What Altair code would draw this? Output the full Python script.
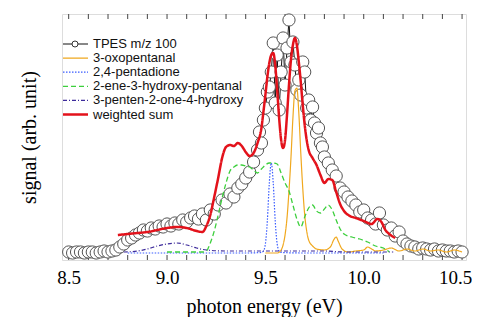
import altair as alt
import pandas as pd

# ---------------- data (signal in arb. units) ----------------
tpes_x = [8.50, 8.52, 8.54, 8.56, 8.58, 8.60, 8.62, 8.64, 8.66, 8.68,
          8.70, 8.72, 8.74, 8.76, 8.78, 8.80, 8.82, 8.84, 8.86, 8.88,
          8.90, 8.92, 8.94, 8.96, 8.98, 9.00, 9.02, 9.04, 9.06, 9.08,
          9.10, 9.12, 9.14, 9.16, 9.18, 9.20, 9.22, 9.24, 9.26, 9.28,
          9.30, 9.32, 9.34, 9.36, 9.38, 9.40, 9.42, 9.44,
          9.46, 9.47, 9.48, 9.49, 9.50, 9.51, 9.52, 9.53, 9.54, 9.55,
          9.56, 9.57, 9.58, 9.59, 9.60, 9.61, 9.62, 9.63, 9.64, 9.65,
          9.66, 9.67, 9.68, 9.69, 9.70, 9.71, 9.72, 9.73, 9.74, 9.75,
          9.76, 9.77, 9.78, 9.79, 9.80,
          9.82, 9.84, 9.86, 9.88, 9.90, 9.92, 9.94, 9.96, 9.98, 10.00,
          10.02, 10.04, 10.06, 10.08, 10.10, 10.12, 10.14, 10.16, 10.18, 10.20,
          10.22, 10.24, 10.26, 10.28, 10.30, 10.32, 10.34, 10.36, 10.38, 10.40,
          10.42, 10.44, 10.46, 10.48, 10.50]
tpes_y = [1, 0, 1, 1, 0, 1, 1, 0, 1, 2,
          1, 2, 3, 6, 9, 13, 15, 18, 20, 23,
          22, 25, 24, 27, 26, 29, 27, 30, 29, 33,
          31, 35, 37, 34, 39, 33, 43, 39, 48, 53,
          50, 59, 56, 65, 69, 75, 81, 91,
          103, 121, 110, 133, 145, 161, 166, 181, 210, 150,
          198, 143, 181, 215, 168, 205, 233, 191, 211, 188,
          163, 173, 158, 191, 181, 145, 153, 133, 146, 130,
          120, 125, 110, 106, 96,
          90, 83, 77, 65, 61, 56, 52, 48, 41, 43,
          35, 33, 29, 40, 28, 23, 25, 17, 21, 12,
          9, 7, 6, 4, 5, 4, 3, 4, 2, 3,
          2, 2, 1, 2, 1]

oxo_x = [9.50, 9.56, 9.58, 9.59, 9.60, 9.61, 9.62, 9.63, 9.64, 9.65,
         9.66, 9.67, 9.68, 9.69, 9.70, 9.71, 9.72, 9.74, 9.76, 9.80,
         9.83, 9.85, 9.86, 9.87, 9.89, 9.92, 9.96, 10.00, 10.02, 10.04,
         10.06, 10.10, 10.14, 10.18, 10.22, 10.26, 10.30, 10.34, 10.38, 10.42,
         10.46, 10.50]
oxo_y = [0, 0, 3, 8, 18, 35, 62, 95, 135, 162,
         165, 140, 100, 65, 38, 22, 13, 7, 4, 3,
         6, 14, 16, 12, 4, 1, 2, 3, 6, 4,
         2, 3, 5, 2, 4, 2, 4, 2, 3, 1,
         3, 1]

pd_x = [8.80, 9.00, 9.20, 9.40, 9.48, 9.49, 9.50, 9.51, 9.52, 9.53,
        9.54, 9.55, 9.56, 9.57, 9.58, 9.70, 9.90, 10.10]
pd_y = [0, 0, 0, 0, 0.5, 2, 9, 32, 70, 90,
        70, 32, 9, 2, 0.5, 0, 0, 0]

ene_x = [9.00, 9.10, 9.18, 9.20, 9.22, 9.24, 9.26, 9.28, 9.30, 9.32,
         9.34, 9.36, 9.38, 9.40, 9.42, 9.44, 9.46, 9.48, 9.50, 9.52,
         9.54, 9.56, 9.58, 9.60, 9.62, 9.64, 9.66, 9.68, 9.70, 9.72,
         9.74, 9.76, 9.78, 9.80, 9.82, 9.84, 9.86, 9.88, 9.90, 9.94,
         9.98, 10.02, 10.06, 10.10, 10.13]
ene_y = [1, 1, 1, 2, 10, 22, 38, 55, 70, 82,
         86, 88, 88, 87, 86, 83, 80, 84, 88, 90,
         90, 89, 80, 70, 62, 48, 34, 26, 36, 45,
         48, 42, 40, 44, 48, 43, 33, 24, 19, 16,
         14, 11, 7, 5, 1]

pen_x = [8.78, 8.85, 8.90, 8.95, 9.00, 9.05, 9.10, 9.15, 9.20, 9.30,
         9.40, 9.50, 9.60, 9.70, 9.80, 9.90, 10.00, 10.10, 10.15]
pen_y = [1, 2, 4, 7, 9, 10, 8, 5, 3, 2,
         2, 2, 2, 2, 2, 1, 1, 1, 1]

sum_x = [8.75, 8.80, 8.85, 8.90, 8.95, 9.00, 9.05, 9.10, 9.15, 9.18,
         9.20, 9.22, 9.24, 9.26, 9.28, 9.30, 9.32, 9.34, 9.36, 9.38,
         9.40, 9.42, 9.44, 9.46, 9.48, 9.49, 9.50, 9.51, 9.52, 9.53,
         9.54, 9.55, 9.56, 9.57, 9.58, 9.59, 9.60, 9.61, 9.62, 9.63,
         9.64, 9.65, 9.66, 9.67, 9.68, 9.69, 9.70, 9.71, 9.72, 9.74,
         9.76, 9.78, 9.80, 9.82, 9.84, 9.86, 9.88, 9.90, 9.93, 9.96,
         10.00, 10.04, 10.07, 10.09, 10.11, 10.13, 10.16]
sum_y = [18, 19, 20, 21, 23, 25, 26, 25, 22, 21,
         27, 38, 56, 75, 95, 106, 108, 107, 110, 107,
         101, 97, 100, 110, 125, 141, 158, 176, 190, 198,
         200, 188, 163, 135, 113, 105, 113, 138, 168, 193,
         208, 215, 208, 191, 171, 148, 128, 113, 103, 95,
         88, 78, 70, 74, 73, 61, 49, 42, 37, 35,
         32, 29, 34, 31, 23, 19, 15]

tick_values = [8.5, 8.6, 8.7, 8.8, 8.9, 9.0, 9.1, 9.2, 9.3, 9.4, 9.5,
               9.6, 9.7, 9.8, 9.9, 10.0, 10.1, 10.2, 10.3, 10.4, 10.5]
label_values = [8.5, 9.0, 9.5, 10.0, 10.5]

labels = ["TPES m/z 100", "3-oxopentanal", "2,4-pentadione",
          "2-ene-3-hydroxy-pentanal", "3-penten-2-one-4-hydroxy", "weighted sum"]

# ---------------- styling ----------------
W, H = 404, 246
colors = ["#111111", "#f0a81e", "#3a5cff", "#3ccf3c", "#3d2b9b", "#e3121b"]
dashes = [[1, 0], [1, 0], [1.5, 1.5], [5, 3], [4, 2, 1, 2], [1, 0]]
widths = [1, 1.2, 1.2, 1.3, 1.2, 2.5]

xs = alt.Scale(domain=[8.466, 10.52], nice=False, zero=False)
ys = alt.Scale(domain=[-7, 239], nice=False, zero=False)

serif = "Liberation Serif"
xaxis = alt.Axis(values=label_values, format=".1f", ticks=False, domain=False, grid=False,
                 labelFlush=False, labelFont=serif, labelFontSize=19, labelColor="black",
                 labelPadding=8,
                 labelOffset={"condition": {"test": "datum.value > 10.4", "value": -7}, "value": 0},
                 title="photon energy (eV)", titleFont=serif,
                 titleFontSize=20, titleFontWeight="normal", titleColor="black",
                 titlePadding=9)
yaxis = alt.Axis(labels=False, ticks=False, domain=False, grid=False,
                 title="signal (arb. unit)", titleFont=serif, titleFontSize=20,
                 titleFontWeight="normal", titleColor="black", titlePadding=23)


def xy():
    return dict(x=alt.X("x:Q", scale=xs, axis=xaxis), y=alt.Y("y:Q", scale=ys, axis=yaxis))


def curve(xv, yv, i):
    df = pd.DataFrame({"x": xv, "y": yv})
    return alt.Chart(df).mark_line(color=colors[i], strokeDash=dashes[i],
                                   strokeWidth=widths[i], interpolate="monotone").encode(**xy())


tpes_df = pd.DataFrame({"x": tpes_x, "y": tpes_y})
tpes_line = alt.Chart(tpes_df).mark_line(color="#111111", strokeWidth=1).encode(**xy())
tpes_pts = alt.Chart(tpes_df).mark_circle(size=150, fill="white", stroke="#555555",
                                          strokeWidth=1, opacity=1, fillOpacity=1).encode(**xy())

ticks_df = pd.DataFrame({"t": tick_values})
ticks_top = alt.Chart(ticks_df).mark_rule(color="#444444", strokeWidth=1).encode(
    x=alt.X("t:Q", scale=xs, axis=xaxis), y=alt.value(0), y2=alt.value(5))
ticks_bot = alt.Chart(ticks_df).mark_rule(color="#444444", strokeWidth=1).encode(
    x=alt.X("t:Q", scale=xs, axis=xaxis), y=alt.value(H - 5), y2=alt.value(H))

layers = [ticks_top, ticks_bot, tpes_line, tpes_pts,
          curve(oxo_x, oxo_y, 1), curve(pd_x, pd_y, 2), curve(ene_x, ene_y, 3),
          curve(pen_x, pen_y, 4), curve(sum_x, sum_y, 5)]

# ---------------- legend (top-left, inside the frame) ----------------
for i, lab in enumerate(labels):
    ldf = pd.DataFrame({"label": [lab]})
    yy = 30 + 14.1 * i
    layers.append(alt.Chart(ldf).mark_rule(color=colors[i], strokeDash=dashes[i],
                                           strokeWidth=widths[i]).encode(
        x=alt.value(1), x2=alt.value(26), y=alt.value(yy)))
    layers.append(alt.Chart(ldf).mark_text(align="left", baseline="middle",
                                           font="Liberation Sans", fontSize=13,
                                           color="#111111").encode(
        x=alt.value(31), y=alt.value(yy), text="label:N"))
    if i == 0:
        layers.append(alt.Chart(ldf).mark_circle(size=36, fill="white", stroke="#333333",
                                                 strokeWidth=1, opacity=1).encode(
            x=alt.value(13), y=alt.value(yy)))

chart = alt.layer(*layers).properties(
    width=W, height=H,
    autosize=alt.AutoSizeParams(type="none"),
    padding={"left": 54, "top": 6, "right": 6, "bottom": 57},
).configure_view(stroke="#555555", strokeWidth=1.5).configure(background="white")

chart.save("out.html", embed_options={"renderer": "svg", "actions": False})
